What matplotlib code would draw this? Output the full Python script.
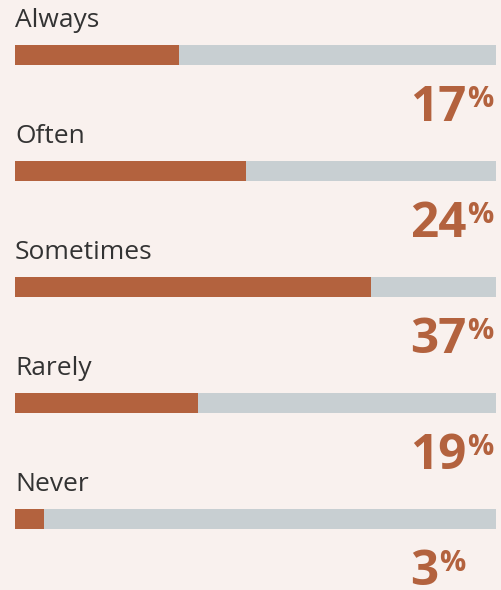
import matplotlib.pyplot as plt
import matplotlib.transforms as mtransforms

categories = ['Always', 'Often', 'Sometimes', 'Rarely', 'Never']
values = [17, 24, 37, 19, 3]
scale_max = 50

bg = '#f9f1ee'
orange = '#b3623e'
grey = '#c8cfd2'
dark = '#333333'

plt.rcParams['font.family'] = ['Open Sans', 'DejaVu Sans']

fig = plt.figure(figsize=(5.02, 5.90), dpi=100, facecolor=bg)
ax = fig.add_axes([15 / 502, 0, 481 / 502, 1])
ax.set_facecolor(bg)
ax.set_xlim(0, scale_max)
ax.set_ylim(590, 0)
ax.axis('off')

fig.canvas.draw()
renderer = fig.canvas.get_renderer()

# numbers start on a fixed column
num_x = (410 - 15) / 481 * scale_max

step = 116
for i, (cat, v) in enumerate(zip(categories, values)):
    yc = 55 + i * step
    ax.barh(yc, scale_max, height=20, color=grey, linewidth=0)
    ax.barh(yc, v, height=20, color=orange, linewidth=0)
    ax.text(0, yc - 28, cat, fontsize=19, color=dark, va='baseline', ha='left')
    num = ax.text(num_x, yc + 66, str(v), fontsize=35.5, fontweight='bold',
                  color=orange, va='baseline', ha='left')
    w = num.get_window_extent(renderer).width
    pct_tr = mtransforms.offset_copy(ax.transData, fig=fig, x=w + 1, y=0, units='dots')
    ax.text(num_x, yc + 30, '%', transform=pct_tr, fontsize=21, fontweight='bold',
            color=orange, va='top', ha='left')

fig.savefig('out.png', dpi=100, facecolor=bg)
